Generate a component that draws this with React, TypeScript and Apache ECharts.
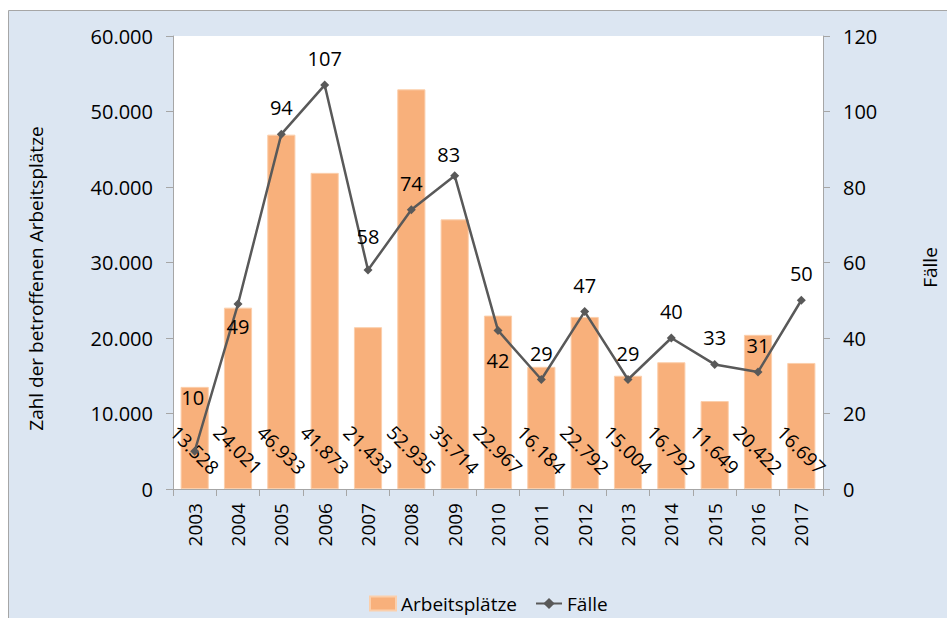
import React, { useEffect, useRef } from "react";
import * as echarts from "echarts";

const years = ["2003","2004","2005","2006","2007","2008","2009","2010","2011","2012","2013","2014","2015","2016","2017"];
const arbeitsplaetze = [13528, 24021, 46933, 41873, 21433, 52935, 35714, 22967, 16184, 22792, 15004, 16792, 11649, 20422, 16697];
const faelle = [10, 49, 94, 107, 58, 74, 83, 42, 29, 47, 29, 40, 33, 31, 50];

// label placement tweaks for the line (index -> label override)
const lineLabelTweaks: Record<number, any> = {
  0: { offset: [-2, -27] },
  1: { position: "bottom", distance: 8 },
  4: { offset: [0, -7] },
  6: { offset: [-6, 5] },
  7: { position: "bottom", distance: 16 },
};

const FONT = "'Open Sans', 'Noto Sans', sans-serif";

function fmtDE(v: number): string {
  const s = Math.round(v).toString();
  return s.replace(/\B(?=(\d{3})+(?!\d))/g, ".");
}

export default function App() {
  const ref = useRef<HTMLDivElement>(null);
  useEffect(() => {
    if (!ref.current) return;
    const chart = echarts.init(ref.current, null, { renderer: "svg" });
    const axisColor = "#a6a6a6";
    chart.setOption({
      animation: false,
      textStyle: { fontFamily: FONT, color: "#000" },
      graphic: [
        {
          type: "rect",
          z: -10,
          shape: { x: 8.5, y: 10.5, width: 945, height: 620 },
          style: { fill: "#dce6f2", stroke: "#a6a6a6", lineWidth: 1 },
        },
      ],
      grid: {
        left: 173,
        right: 121,
        top: 36,
        bottom: 129,
        show: true,
        backgroundColor: "#ffffff",
        borderWidth: 0,
      },
      legend: {
        left: 364,
        top: 589,
        itemWidth: 26,
        itemHeight: 14,
        itemGap: 18,
        textStyle: { fontFamily: FONT, fontSize: 19, color: "#000" },
        data: [
          { name: "Arbeitsplätze", icon: "rect" },
          { name: "Fälle" },
        ],
      },
      xAxis: {
        type: "category",
        data: years,
        axisLine: { lineStyle: { color: axisColor, width: 1 } },
        axisTick: { show: true, length: 7, lineStyle: { color: axisColor } },
        axisLabel: { rotate: 90, margin: 14, fontSize: 19, color: "#000", fontFamily: FONT },
      },
      yAxis: [
        {
          type: "value",
          min: 0,
          max: 60000,
          interval: 10000,
          name: "Zahl der betroffenen Arbeitsplätze",
          nameLocation: "middle",
          nameRotate: 90,
          nameGap: 128,
          nameTextStyle: { fontSize: 19, color: "#000", fontFamily: FONT, padding: [0, 32, 0, 0] },
          axisLine: { show: true, lineStyle: { color: axisColor } },
          axisTick: { show: true, length: 7, lineStyle: { color: axisColor } },
          splitLine: { show: false },
          axisLabel: {
            margin: 20,
            fontSize: 20,
            color: "#000",
            fontFamily: FONT,
            formatter: (v: number) => fmtDE(v),
          },
        },
        {
          type: "value",
          min: 0,
          max: 120,
          interval: 20,
          position: "right",
          name: "Fälle",
          nameLocation: "middle",
          nameRotate: 90,
          nameGap: 97,
          nameTextStyle: { fontSize: 19, color: "#000", fontFamily: FONT, padding: [0, 10, 0, 0] },
          axisLine: { show: true, lineStyle: { color: axisColor } },
          axisTick: { show: true, length: 7, lineStyle: { color: axisColor } },
          splitLine: { show: false },
          axisLabel: { margin: 20, fontSize: 20, color: "#000", fontFamily: FONT },
        },
      ],
      series: [
        {
          name: "Arbeitsplätze",
          type: "bar",
          yAxisIndex: 0,
          data: arbeitsplaetze,
          barCategoryGap: "35%",
          itemStyle: { color: "#f8b07b", borderColor: "#fbcfac", borderWidth: 1 },
          label: {
            show: true,
            position: "insideBottom",
            distance: 39,
            rotate: -45,
            align: "center",
            verticalAlign: "middle",
            fontSize: 19,
            color: "#000",
            fontFamily: FONT,
            formatter: (p: any) => fmtDE(p.value),
          },
          z: 2,
        },
        {
          name: "Fälle",
          type: "line",
          yAxisIndex: 1,
          data: faelle.map((v, i) =>
            lineLabelTweaks[i] ? { value: v, label: lineLabelTweaks[i] } : v
          ),
          symbol: "diamond",
          symbolSize: 9,
          lineStyle: { color: "#595959", width: 2.5 },
          itemStyle: { color: "#595959" },
          label: {
            show: true,
            position: "top",
            distance: 12,
            fontSize: 20,
            color: "#000",
            fontFamily: FONT,
          },
          z: 3,
        },
      ],
    });
    return () => chart.dispose();
  }, []);
  return (
    <div
      ref={ref}
      style={{ position: "absolute", left: 0, top: 0, width: 947, height: 618 }}
    />
  );
}
